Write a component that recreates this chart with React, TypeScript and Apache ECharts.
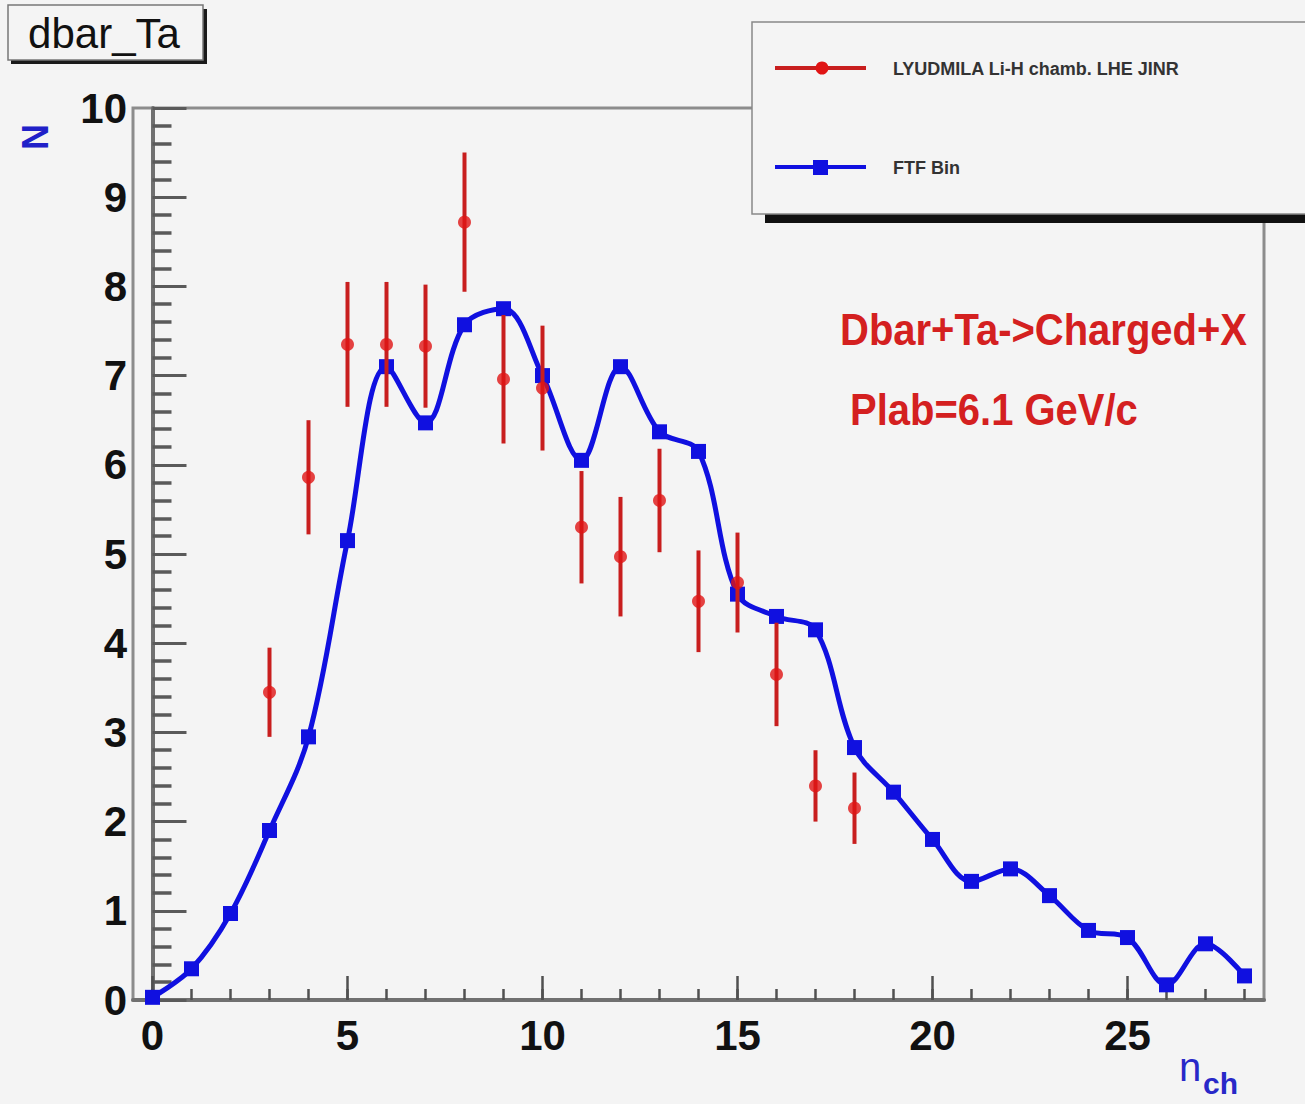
import React, { useEffect, useRef } from "react";
import * as echarts from "echarts";

// ---- data ----
const blueX = [0, 1, 2, 3, 4, 5, 6, 7, 8, 9, 10, 11, 12, 13, 14, 15, 16, 17, 18, 19, 20, 21, 22, 23, 24, 25, 26, 27, 28];
const blueY = [0.03, 0.35, 0.97, 1.9, 2.95, 5.15, 7.1, 6.47, 7.57, 7.75, 7.0, 6.05, 7.1, 6.37, 6.15, 4.55, 4.3, 4.15, 2.83, 2.33, 1.8, 1.33, 1.47, 1.17, 0.78, 0.7, 0.17, 0.63, 0.27];

const redX = [3, 4, 5, 6, 7, 8, 9, 10, 11, 12, 13, 14, 15, 16, 17, 18];
const redY = [3.45, 5.86, 7.35, 7.35, 7.33, 8.72, 6.96, 6.86, 5.3, 4.97, 5.6, 4.47, 4.68, 3.65, 2.4, 2.15];
const redErr = [0.5, 0.64, 0.7, 0.7, 0.69, 0.78, 0.72, 0.7, 0.63, 0.67, 0.58, 0.57, 0.56, 0.58, 0.4, 0.4];

const xMajorTicks = [0, 5, 10, 15, 20, 25];
const xMinorTicks = [0, 1, 2, 3, 4, 5, 6, 7, 8, 9, 10, 11, 12, 13, 14, 15, 16, 17, 18, 19, 20, 21, 22, 23, 24, 25, 26, 27, 28];

const titleText = "dbar_Ta";
const legendRed = "LYUDMILA Li-H chamb. LHE JINR";
const legendBlue = "FTF Bin";
const note1 = "Dbar+Ta->Charged+X";
const note2 = "Plab=6.1 GeV/c";

const FONT = "'Liberation Sans', Arial, Helvetica, sans-serif";
const BG = "#f4f4f4";
const RED = "#e01414";
const RED_DARK = "#c81e1e";
const BLUE = "#1010e0";

export default function App() {
  const ref = useRef<HTMLDivElement>(null);

  useEffect(() => {
    if (!ref.current) return;
    const chart = echarts.init(ref.current, null, { renderer: "svg" });

    const blueData = blueX.map((x, i) => [x, blueY[i]]);
    const redData = redX.map((x, i) => [x, redY[i]]);
    const errData = redX.map((x, i) => [x, redY[i] - redErr[i], redY[i] + redErr[i]]);

    const option: any = {
      animation: false,
      backgroundColor: BG,
      grid: {
        left: 133,
        top: 108,
        width: 1131,
        height: 892,
        show: true,
        borderColor: "#8c8c8c",
        borderWidth: 3,
        backgroundColor: "transparent",
      },
      xAxis: [
        {
          type: "value",
          min: -0.5,
          max: 28.5,
          position: "bottom",
          axisLine: { show: true, onZero: false, lineStyle: { color: "#707070", width: 4 } },
          axisTick: {
            show: true,
            inside: true,
            length: 24,
            customValues: xMajorTicks,
            lineStyle: { color: "#505050", width: 2.5 },
          },
          axisLabel: {
            show: true,
            customValues: xMajorTicks,
            margin: 14,
            fontSize: 42,
            fontWeight: "bold",
            fontFamily: FONT,
            color: "#111",
          },
          splitLine: { show: false },
        },
        {
          type: "value",
          min: -0.5,
          max: 28.5,
          position: "bottom",
          axisLine: { show: false, onZero: false },
          axisTick: {
            show: true,
            inside: true,
            length: 11,
            customValues: xMinorTicks,
            lineStyle: { color: "#505050", width: 2.5 },
          },
          axisLabel: { show: false },
          splitLine: { show: false },
        },
      ],
      yAxis: {
        type: "value",
        min: 0,
        max: 10,
        interval: 1,
        axisLine: { show: true, lineStyle: { color: "#707070", width: 4 } },
        axisTick: { show: true, inside: true, length: 34, lineStyle: { color: "#5a5a5a", width: 3 } },
        minorTick: { show: true, splitNumber: 5, length: 19, lineStyle: { color: "#5a5a5a", width: 3.5 } },
        axisLabel: {
          margin: 6,
          fontSize: 42,
          fontWeight: "bold",
          fontFamily: FONT,
          color: "#111",
        },
        splitLine: { show: false },
        minorSplitLine: { show: false },
      },
      series: [
        {
          name: legendBlue,
          type: "line",
          data: blueData,
          smooth: 0.35,
          symbol: "rect",
          symbolSize: 15,
          lineStyle: { color: BLUE, width: 5 },
          itemStyle: { color: BLUE },
          z: 3,
        },
        {
          name: "errors",
          type: "custom",
          data: errData,
          encode: { x: 0, y: [1, 2] },
          renderItem: (params: any, api: any) => {
            const x = api.value(0);
            const p1 = api.coord([x, api.value(1)]);
            const p2 = api.coord([x, api.value(2)]);
            return {
              type: "line",
              shape: { x1: p1[0], y1: p1[1], x2: p2[0], y2: p2[1] },
              style: { stroke: RED_DARK, lineWidth: 4 },
            };
          },
          z: 4,
        },
        {
          name: legendRed,
          type: "scatter",
          data: redData,
          symbol: "circle",
          symbolSize: 13,
          itemStyle: { color: RED },
          z: 5,
        },
      ],
      graphic: [
        // title box
        { type: "rect", shape: { x: 11, y: 9, width: 196, height: 55 }, style: { fill: "#1a1a1a" }, z: 10 },
        { type: "rect", shape: { x: 8, y: 5, width: 195, height: 55 }, style: { fill: BG, stroke: "#777", lineWidth: 1.5 }, z: 11 },
        {
          type: "text",
          x: 104,
          y: 33,
          z: 12,
          style: { text: titleText, fontSize: 42, fontWeight: 500, fontFamily: FONT, fill: "#111", align: "center", verticalAlign: "middle" },
        },
        // legend box
        { type: "rect", shape: { x: 765, y: 214, width: 545, height: 9 }, style: { fill: "#111" }, z: 10 },
        { type: "rect", shape: { x: 752, y: 22, width: 560, height: 192 }, style: { fill: BG, stroke: "#888", lineWidth: 1.5 }, z: 11 },
        { type: "line", shape: { x1: 775, y1: 68, x2: 866, y2: 68 }, style: { stroke: RED_DARK, lineWidth: 4 }, z: 12 },
        { type: "circle", shape: { cx: 822, cy: 68, r: 6.5 }, style: { fill: RED }, z: 13 },
        {
          type: "text",
          x: 893,
          y: 69,
          z: 12,
          style: { text: legendRed, fontSize: 18, fontWeight: "bold", fontFamily: FONT, fill: "#333", verticalAlign: "middle" },
        },
        { type: "line", shape: { x1: 775, y1: 167, x2: 866, y2: 167 }, style: { stroke: BLUE, lineWidth: 4 }, z: 12 },
        { type: "rect", shape: { x: 813, y: 160, width: 15, height: 15 }, style: { fill: BLUE }, z: 13 },
        {
          type: "text",
          x: 893,
          y: 168,
          z: 12,
          style: { text: legendBlue, fontSize: 18, fontWeight: "bold", fontFamily: FONT, fill: "#333", verticalAlign: "middle" },
        },
        // annotations
        {
          type: "text",
          x: 840,
          y: 330,
          scaleY: 1.12,
          z: 12,
          style: { text: note1, fontSize: 40, fontWeight: "bold", fontFamily: FONT, fill: "#d42020", verticalAlign: "middle" },
        },
        {
          type: "text",
          x: 850,
          y: 410,
          scaleY: 1.12,
          z: 12,
          style: { text: note2, fontSize: 40, fontWeight: "bold", fontFamily: FONT, fill: "#d42020", verticalAlign: "middle" },
        },
        // axis titles
        {
          type: "text",
          x: 35,
          y: 137,
          rotation: Math.PI / 2,
          z: 12,
          style: { text: "N", fontSize: 36, fontWeight: "bold", fontFamily: FONT, fill: "#2020c8", align: "center", verticalAlign: "middle" },
        },
        {
          type: "text",
          x: 1179,
          y: 1087,
          z: 12,
          style: { text: "n", fontSize: 40, fontFamily: FONT, fill: "#2828c8", verticalAlign: "bottom" },
        },
        {
          type: "text",
          x: 1203,
          y: 1098,
          z: 12,
          style: { text: "ch", fontSize: 30, fontWeight: "bold", fontFamily: FONT, fill: "#2828c8", verticalAlign: "bottom" },
        },
      ],
    };

    chart.setOption(option);
    return () => chart.dispose();
  }, []);

  return (
    <div
      ref={ref}
      style={{ position: "fixed", left: 0, top: 0, width: 1305, height: 1104, background: BG }}
    />
  );
}
